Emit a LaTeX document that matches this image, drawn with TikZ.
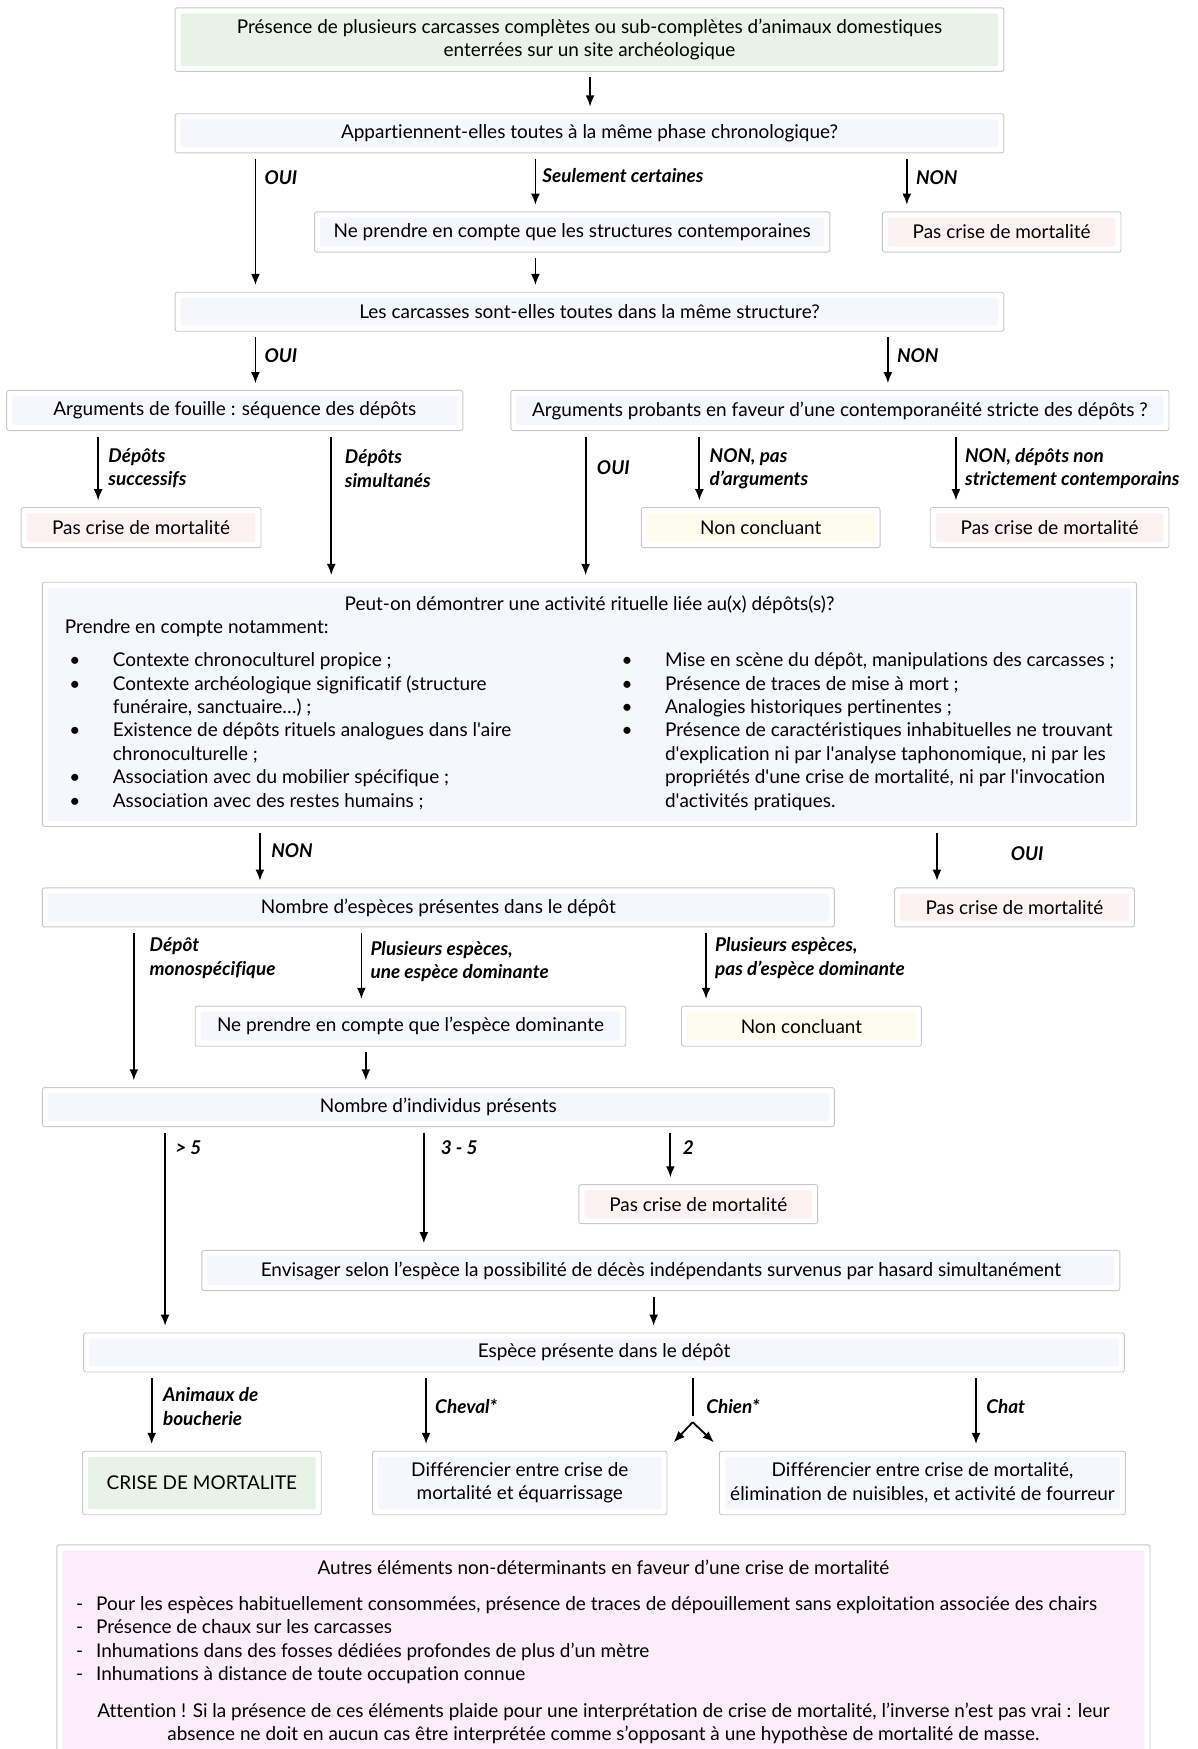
\documentclass[tikz,border=0pt]{standalone}
\usepackage{fontspec}
\setmainfont{Lato}[Ligatures={TeX,NoCommon}]
\usetikzlibrary{arrows.meta}
\usepackage{xcolor}

\definecolor{boxline}{RGB}{200,200,200}
\definecolor{greenfill}{RGB}{231,243,231}
\definecolor{lavfill}{RGB}{246,246,253}
\definecolor{pinkfill}{RGB}{253,242,243}
\definecolor{yelfill}{RGB}{254,253,237}
\definecolor{magfill}{RGB}{252,237,250}
\newcommand{\boxfont}{\fontsize{17}{21}\selectfont}
\newcommand{\sq}{\textquotesingle}

\begin{document}
\begin{tikzpicture}[
    x=1pt, y=-1pt,
    box/.style={draw=boxline, line width=0.8pt, fill=white, rounded corners=2pt, inner sep=0pt, align=center, font=\boxfont,
        path picture={\fill[#1] ([xshift=5pt,yshift=-5pt]path picture bounding box.north west) rectangle ([xshift=-5pt,yshift=5pt]path picture bounding box.south east);}},
    box/.default=lavfill,
    arr/.style={-{Latex[length=10pt,width=8pt]}, line width=1.6pt, shorten <=5pt, shorten >=6pt},
    lbl/.style={anchor=west, inner sep=0pt, align=left, font=\boxfont\itshape\bfseries},
    txt/.style={inner sep=0pt, align=left, font=\boxfont}
]
\useasboundingbox (0,0) rectangle (1074,1568);

\node[box=greenfill, minimum width=743pt, minimum height=57pt] (start) at (528.5,35.5) {Présence de plusieurs carcasses complètes ou sub-complètes d’animaux domestiques\\ enterrées sur un site archéologique};
\node[box, minimum width=743pt, minimum height=35pt] (phase) at (528.5,119.5) {Appartiennent-elles toutes à la même phase chronologique?};
\node[box, minimum width=462pt, minimum height=36pt] (contemp) at (513,208) {Ne prendre en compte que les structures contemporaines};
\node[box=pinkfill, minimum width=214pt, minimum height=36pt] (nocrise1) at (898,208) {Pas crise de mortalité};
\node[box, minimum width=743pt, minimum height=35pt] (structure) at (528.5,279.5) {Les carcasses sont-elles toutes dans la même structure?};
\node[box, minimum width=409pt, minimum height=36pt] (fouille) at (210.5,368) {Arguments de fouille : séquence des dépôts};
\node[box, minimum width=590pt, minimum height=36pt] (probants) at (753,368) {Arguments probants en faveur d’une contemporanéité stricte des dépôts ?};
\node[box=pinkfill, minimum width=215pt, minimum height=36pt] (nocrise2) at (126.5,473) {Pas crise de mortalité};
\node[box=yelfill, minimum width=214pt, minimum height=36pt] (nonconcl1) at (682,473) {Non concluant};
\node[box=pinkfill, minimum width=214pt, minimum height=36pt] (nocrise3) at (941,473) {Pas crise de mortalité};

% activite rituelle
\node[box, minimum width=981pt, minimum height=219pt] (rituel) at (528.5,631.5) {};
\node[txt] (rituelq) at (528.5,542) {Peut-on démontrer une activité rituelle liée au(x) dépôts(s)?};
\node[txt, anchor=west] (rituelp) at (58,563) {Prendre en compte notamment:};
\node[txt, anchor=north west] (rituelg) at (62,585) {%
\makebox[39pt][l]{•}Contexte chronoculturel propice ;\\
\makebox[39pt][l]{•}Contexte archéologique significatif (structure\\
\hspace*{39pt}funéraire, sanctuaire…) ;\\
\makebox[39pt][l]{•}Existence de dépôts rituels analogues dans l\sq aire\\
\hspace*{39pt}chronoculturelle ;\\
\makebox[39pt][l]{•}Association avec du mobilier spécifique ;\\
\makebox[39pt][l]{•}Association avec des restes humains ;};
\node[txt, anchor=north west] (rituELd) at (557,585) {%
\makebox[39pt][l]{•}Mise en scène du dépôt, manipulations des carcasses ;\\
\makebox[39pt][l]{•}Présence de traces de mise à mort ;\\
\makebox[39pt][l]{•}Analogies historiques pertinentes ;\\
\makebox[39pt][l]{•}Présence de caractéristiques inhabituelles ne trouvant\\
\hspace*{39pt}d\sq explication ni par l\sq analyse taphonomique, ni par les\\
\hspace*{39pt}propriétés d\sq une crise de mortalité, ni par l\sq invocation\\
\hspace*{39pt}d\sq activités pratiques.};

\node[box, minimum width=710pt, minimum height=35pt] (especes) at (393,813.5) {Nombre d’espèces présentes dans le dépôt};
\node[box=pinkfill, minimum width=215pt, minimum height=35pt] (nocrise4) at (909.5,813.5) {Pas crise de mortalité};
\node[box, minimum width=386pt, minimum height=36pt] (dominante) at (368,920) {Ne prendre en compte que l’espèce dominante};
\node[box=yelfill, minimum width=215pt, minimum height=36pt] (nonconcl2) at (718.5,920) {Non concluant};
\node[box, minimum width=710pt, minimum height=35pt] (individus) at (393,992.5) {Nombre d’individus présents};
\node[box=pinkfill, minimum width=214pt, minimum height=35pt] (nocrise5) at (626,1079.5) {Pas crise de mortalité};
\node[box, minimum width=823pt, minimum height=36pt] (hasard) at (592.5,1139) {Envisager selon l’espèce la possibilité de décès indépendants survenus par hasard simultanément};
\node[box, minimum width=933pt, minimum height=35pt] (espece) at (541.5,1212.5) {Espèce présente dans le dépôt};
\node[box=greenfill, minimum width=214pt, minimum height=57pt] (crise) at (181,1329.5) {CRISE DE MORTALITE};
\node[box, minimum width=264pt, minimum height=57pt] (cheval) at (466,1329.5) {Différencier entre crise de\\ mortalité et équarrissage};
\node[box, minimum width=364pt, minimum height=57pt] (chat) at (827,1329.5) {Différencier entre crise de mortalité,\\ élimination de nuisibles, et activité de fourreur};

% autres elements
\node[box=magfill, minimum width=980pt, minimum height=215pt] (autres) at (541,1492.5) {};
\node[txt] (autrest) at (541,1405) {Autres éléments non-déterminants en faveur d’une crise de mortalité};
\node[txt, anchor=north west] (autresl) at (68,1431) {%
\makebox[18pt][l]{-}Pour les espèces habituellement consommées, présence de traces de dépouillement sans exploitation associée des chairs\\
\makebox[18pt][l]{-}Présence de chaux sur les carcasses\\
\makebox[18pt][l]{-}Inhumations dans des fosses dédiées profondes de plus d’un mètre\\
\makebox[18pt][l]{-}Inhumations à distance de toute occupation connue};
\node[txt, align=center] (attention) at (541,1545) {Attention ! Si la présence de ces éléments plaide pour une interprétation de crise de mortalité, l’inverse n’est pas vrai : leur\\ absence ne doit en aucun cas être interprétée comme s’opposant à une hypothèse de mortalité de masse.};

\coordinate (fork) at (621,1275);
\coordinate (chienl) at (604,1293);
\coordinate (chienr) at (640,1293);

\draw[arr] (start.south -| 529,0) -- (phase.north -| 529,0);
\draw[arr] (phase.south -| 229,0) -- (structure.north -| 229,0);
\draw[arr] (phase.south -| 480,0) -- (contemp.north -| 480,0);
\draw[arr] (phase.south -| 813,0) -- (nocrise1.north -| 813,0);
\draw[arr] (contemp.south -| 480,0) -- (structure.north -| 480,0);
\draw[arr] (structure.south -| 229,0) -- (fouille.north -| 229,0);
\draw[arr] (structure.south -| 796,0) -- (probants.north -| 796,0);
\draw[arr] (fouille.south -| 88,0) -- (nocrise2.north -| 88,0);
\draw[arr] (fouille.south -| 297,0) -- (rituel.north -| 297,0);
\draw[arr] (probants.south -| 525,0) -- (rituel.north -| 525,0);
\draw[arr] (probants.south -| 627,0) -- (nonconcl1.north -| 627,0);
\draw[arr] (probants.south -| 857,0) -- (nocrise3.north -| 857,0);
\draw[arr] (rituel.south -| 233,0) -- (especes.north -| 233,0);
\draw[arr] (rituel.south -| 840,0) -- (nocrise4.north -| 840,0);
\draw[arr] (especes.south -| 120,0) -- (individus.north -| 120,0);
\draw[arr] (especes.south -| 324,0) -- (dominante.north -| 324,0);
\draw[arr] (especes.south -| 633,0) -- (nonconcl2.north -| 633,0);
\draw[arr] (dominante.south -| 328,0) -- (individus.north -| 328,0);
\draw[arr] (individus.south -| 148,0) -- (espece.north -| 148,0);
\draw[arr] (individus.south -| 380,0) -- (hasard.north -| 380,0);
\draw[arr] (individus.south -| 601,0) -- (nocrise5.north -| 601,0);
\draw[arr] (hasard.south -| 586,0) -- (espece.north -| 586,0);
\draw[arr] (espece.south -| 136,0) -- (crise.north -| 136,0);
\draw[arr] (espece.south -| 382,0) -- (cheval.north -| 382,0);
\draw[arr, -] (espece.south -| 621,0) -- (fork);
\draw[arr, shorten <=0pt, shorten >=0pt] (fork) -- (chienl);
\draw[arr, shorten <=0pt, shorten >=0pt] (fork) -- (chienr);
\draw[arr] (espece.south -| 875,0) -- (chat.north -| 875,0);

% labels
\node[lbl] (l1) at (237,159) {OUI};
\node[lbl] (l2) at (486,157) {Seulement certaines};
\node[lbl] (l3) at (821,159) {NON};
\node[lbl] (l4) at (237,319) {OUI};
\node[lbl] (l5) at (804,319) {NON};
\node[lbl] (l6) at (97,420) {Dépôts\\ successifs};
\node[lbl] (l7) at (309,420) {Dépôts\\ simultanés};
\node[lbl] (l8) at (535,419) {OUI};
\node[lbl] (l9) at (636,420) {NON, pas\\ d’arguments};
\node[lbl] (l10) at (865,420) {NON, dépôts non\\ strictement contemporains};
\node[lbl] (l11) at (243,763) {NON};
\node[lbl] (l12) at (906,765) {OUI};
\node[lbl] (l13) at (134,859) {Dépôt\\ monospécifique};
\node[lbl] (l14) at (332,862) {Plusieurs espèces,\\ une espèce dominante};
\node[lbl] (l15) at (641,859) {Plusieurs espèces,\\ pas d’espèce dominante};
\node[lbl] (l16) at (157,1029) {> 5};
\node[lbl] (l17) at (395,1029) {3 - 5};
\node[lbl] (l18) at (612,1029) {2};
\node[lbl] (l19) at (146,1261) {Animaux de\\ boucherie};
\node[lbl] (l20) at (390,1261) {Cheval*};
\node[lbl] (l21) at (633,1261) {Chien*};
\node[lbl] (l22) at (884,1261) {Chat};
\end{tikzpicture}
\end{document}
